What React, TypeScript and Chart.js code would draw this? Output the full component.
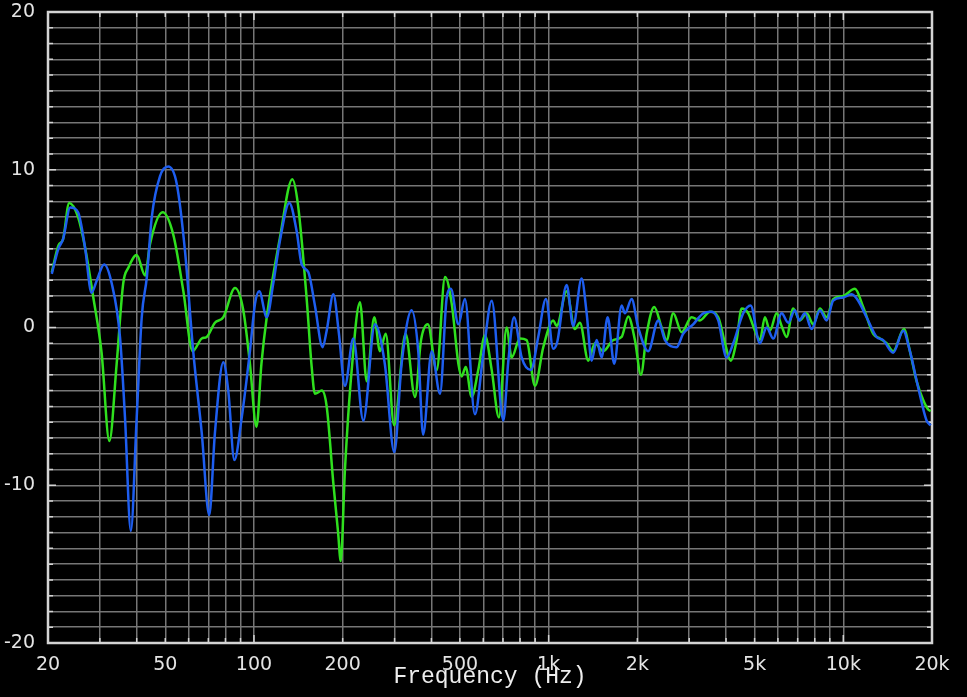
import { useEffect, useRef } from 'react';
import { Chart, registerables } from 'chart.js';

Chart.register(...registerables);

// ---- axis definitions ----
const xMin = 20;
const xMax = 20000;
const xGridValues = [20, 30, 40, 50, 60, 70, 80, 90, 100, 200, 300, 400, 500, 600, 700, 800, 900, 1000, 2000, 3000, 4000, 5000, 6000, 7000, 8000, 9000, 10000, 20000];
const xLabelValues = [20, 50, 100, 200, 500, 1000, 2000, 5000, 10000, 20000];
const xLabelTexts = ['20', '50', '100', '200', '500', '1k', '2k', '5k', '10k', '20k'];
const xMajorValues = [100, 1000, 10000];
const yMin = -20;
const yMax = 20;
const yGridValues = [-20, -19, -18, -17, -16, -15, -14, -13, -12, -11, -10, -9, -8, -7, -6, -5, -4, -3, -2, -1, 0, 1, 2, 3, 4, 5, 6, 7, 8, 9, 10, 11, 12, 13, 14, 15, 16, 17, 18, 19, 20];
const yLabelValues = [-20, -10, 0, 10, 20];
const xTitle = 'Frequency (Hz)';

// ---- series: green ----
const greenFreq = [
  20.6, 21.7, 22.5, 23.6, 25.3, 26.7, 28.5, 30.4, 32.3, 34.2,
  36.0, 37.5, 40.0, 42.7, 44.4, 49.0, 53.2, 57.6, 61.9, 66.5,
  69.1, 73.7, 78.7, 86.2, 92.0, 96.9, 102, 106, 110.5, 122.5,
  135, 141, 151, 157, 161, 170, 176.5, 186, 193, 197,
  203.6, 214.6, 229, 241.3, 256, 267.6, 280, 299, 327, 352,
  369, 389, 417, 445, 469, 494, 507, 523, 548, 577,
  608, 641, 678, 720, 749, 799, 842, 899, 959, 1037,
  1065, 1151, 1228, 1277, 1363, 1436, 1532, 1657, 1769, 1863,
  1963, 2057, 2151, 2282, 2418, 2514, 2648, 2826, 3056, 3262,
  3528, 3764, 3968, 4146, 4346, 4518, 4758, 5012, 5212, 5420,
  5636, 5940, 6176, 6422, 6762, 7126, 7508, 7906, 8330, 8778,
  9242, 9994, 10950, 11682, 12634, 13312, 14028, 14770, 16058, 16828,
  17732, 18670, 19414, 19800,
];
const greenDb = [
  3.5, 5.2, 5.6, 7.9, 7.0, 5.1, 1.9, -1.6, -7.2, -2.3,
  2.8, 3.8, 4.6, 3.3, 5.3, 7.3, 5.9, 2.3, -1.5, -0.7,
  -0.6, 0.3, 0.65, 2.5, 1.1, -2.3, -6.3, -2.3, 0.65, 5.7,
  9.4, 7.8, 1.8, -2.5, -4.2, -4.0, -5.0, -9.9, -13.0, -14.8,
  -9.0, -2.7, 1.6, -3.4, 0.65, -1.5, -0.4, -6.2, -0.4, -4.4,
  -0.8, 0.2, -2.7, 3.2, 1.5, -2.3, -3.1, -2.5, -4.4, -2.7,
  -0.5, -2.7, -5.7, 0.0, -1.9, -0.7, -0.8, -3.7, -1.25, 0.45,
  0.1, 2.3, -0.1, 0.3, -2.1, -1.0, -1.5, -0.8, -0.6, 0.7,
  -0.8, -3.0, -0.4, 1.3, 0.0, -0.8, 0.9, -0.3, 0.65, 0.45,
  1.0, 0.65, -1.0, -2.1, -0.8, 1.2, 0.9, -0.2, -0.8, 0.65,
  -0.2, 0.9, 0.1, -0.6, 1.2, 0.45, 0.9, 0.2, 1.2, 0.65,
  1.8, 2.0, 2.45, 1.3, -0.4, -0.7, -1.0, -1.5, -0.1, -1.5,
  -3.4, -4.6, -5.2, -5.3,
];

// ---- series: blue ----
const blueFreq = [
  20.6, 21.7, 22.5, 23.8, 25.3, 26.7, 28.1, 29.3, 31.0, 32.9,
  35.1, 36.5, 38.2, 40.0, 41.6, 43.3, 45.0, 48.0, 51.2, 54.7,
  58.3, 62.2, 66.5, 70.5, 73.7, 78.7, 81.8, 85.8, 90.9, 96.9,
  100.8, 104.2, 110.5, 116.3, 122.5, 131.8, 139.6, 145.2, 153, 161,
  171, 176.5, 186, 194, 203.6, 217.3, 235, 257.4, 278, 299.4,
  317, 343, 361, 375, 401, 428, 451, 466, 494, 520,
  562, 600, 641, 702, 730, 763, 810, 871, 922, 979,
  1037, 1070, 1151, 1212, 1294, 1346, 1400, 1455, 1513, 1586,
  1670, 1769, 1816, 1913, 2014, 2178, 2354, 2482, 2718, 2862,
  3094, 3348, 3574, 3764, 4018, 4232, 4576, 4848, 5212, 5494,
  5784, 6176, 6502, 6852, 7086, 7408, 7806, 8330, 8778, 9242,
  9994, 10672, 11236, 11996, 12972, 13660, 14770, 15974, 16828, 17952,
  19170, 19800,
];
const blueDb = [
  3.4, 5.0, 5.6, 7.6, 7.3, 5.1, 2.2, 3.0, 4.0, 2.8,
  -0.6, -5.7, -12.9, -5.7, 0.65, 3.2, 7.0, 9.6, 10.2, 9.1,
  4.9, -1.5, -6.7, -11.9, -6.7, -2.2, -4.0, -8.4, -5.7, -1.5,
  1.5, 2.3, 0.65, 2.8, 5.5, 7.9, 6.1, 4.0, 3.5, 1.4,
  -1.25, -0.2, 2.1, -0.3, -3.7, -0.7, -5.9, 0.2, -2.3, -7.9,
  -2.3, 1.1, -1.5, -6.8, -1.5, -4.2, 1.9, 2.45, 0.2, 1.8,
  -5.5, -1.7, 1.7, -5.9, -2.1, 0.65, -1.9, -2.7, -0.6, 1.8,
  -1.35, -0.9, 2.7, 0.1, 3.1, 0.9, -2.1, -0.8, -1.9, 0.65,
  -2.3, 1.4, 0.9, 1.8, 0.0, -1.5, 0.45, -0.8, -1.25, -0.4,
  0.2, 0.9, 1.0, 0.45, -1.9, -1.0, 0.9, 1.4, -1.0, 0.0,
  -0.7, 0.9, 0.3, 1.1, 0.45, 0.9, -0.1, 1.1, 0.45, 1.7,
  1.9, 2.1, 1.7, 0.65, -0.6, -0.8, -1.6, -0.2, -1.5, -3.8,
  -5.9, -6.2,
];

const frameAndTicks = {
  id: 'frameAndTicks',
  beforeDatasetsDraw(chart: any) {
    const { ctx, chartArea: a, scales } = chart;
    const xs = scales.x;
    const ys = scales.y;
    ctx.save();
    ctx.strokeStyle = '#d4d4d4';
    ctx.lineWidth = 1.5;
    ctx.beginPath();
    for (const v of yGridValues) {
      const py = ys.getPixelForValue(v);
      const len = yLabelValues.includes(v) ? 8 : 5;
      ctx.moveTo(a.left, py);
      ctx.lineTo(a.left + len, py);
      ctx.moveTo(a.right, py);
      ctx.lineTo(a.right - len, py);
    }
    for (const v of xGridValues) {
      const px = xs.getPixelForValue(v);
      const len = xMajorValues.includes(v) ? 8 : 5;
      ctx.moveTo(px, a.bottom);
      ctx.lineTo(px, a.bottom - len);
      ctx.moveTo(px, a.top);
      ctx.lineTo(px, a.top + len);
    }
    ctx.stroke();
    ctx.lineWidth = 2.5;
    ctx.strokeRect(a.left, a.top, a.right - a.left, a.bottom - a.top);
    ctx.restore();
  },
};

export default function App() {
  const ref = useRef<HTMLCanvasElement | null>(null);

  useEffect(() => {
    if (!ref.current) return;
    const chart = new Chart(ref.current, {
      type: 'line',
      data: {
        datasets: [
          {
            label: 'blue',
            data: blueFreq.map((f, i) => ({ x: f, y: blueDb[i] })),
            borderColor: '#1e5ef0',
            borderWidth: 2.5,
            pointRadius: 0,
            cubicInterpolationMode: 'monotone',
            fill: false,
            order: 0,
          },
          {
            label: 'green',
            data: greenFreq.map((f, i) => ({ x: f, y: greenDb[i] })),
            borderColor: '#2fe01e',
            borderWidth: 2.5,
            pointRadius: 0,
            cubicInterpolationMode: 'monotone',
            fill: false,
            order: 1,
          },
        ],
      },
      options: {
        animation: false,
        responsive: false,
        layout: { padding: { top: 12, right: 35, left: 0, bottom: 0 } },
        plugins: { legend: { display: false }, tooltip: { enabled: false } },
        scales: {
          x: {
            type: 'logarithmic',
            min: xMin,
            max: xMax,
            afterBuildTicks: (s: any) => {
              s.ticks = xGridValues.map((v) => ({ value: v }));
            },
            afterFit: (s: any) => {
              s.height = 54;
              s.paddingLeft = 0;
              s.paddingRight = 0;
            },
            grid: { color: '#767676', lineWidth: 1.5, drawTicks: false },
            border: { display: false },
            ticks: {
              autoSkip: false,
              maxRotation: 0,
              minRotation: 0,
              padding: 11,
              color: '#e4e4e4',
              font: { family: 'DejaVu Sans', size: 19 },
              callback: (v: any) => {
                const i = xLabelValues.indexOf(Number(v));
                return i >= 0 ? xLabelTexts[i] : '';
              },
            },
            title: {
              display: true,
              text: xTitle,
              color: '#eeeeee',
              font: { family: 'Liberation Mono', size: 23 },
              padding: { top: 0, bottom: 6 },
            },
          },
          y: {
            type: 'linear',
            min: yMin,
            max: yMax,
            afterBuildTicks: (s: any) => {
              s.ticks = yGridValues.map((v) => ({ value: v }));
            },
            afterFit: (s: any) => {
              s.width = 48;
              s.paddingTop = 0;
              s.paddingBottom = 0;
            },
            grid: { color: '#767676', lineWidth: 1.5, drawTicks: false },
            border: { display: false },
            ticks: {
              autoSkip: false,
              padding: 13,
              color: '#e4e4e4',
              font: { family: 'DejaVu Sans', size: 19 },
              callback: (v: any) => (yLabelValues.includes(Number(v)) ? String(v) : ''),
            },
          },
        },
      },
      plugins: [frameAndTicks],
    } as any);
    return () => chart.destroy();
  }, []);

  return (
    <div style={{ position: 'fixed', inset: 0, background: '#000' }}>
      <canvas ref={ref} width={967} height={697} style={{ display: 'block' }} />
    </div>
  );
}
